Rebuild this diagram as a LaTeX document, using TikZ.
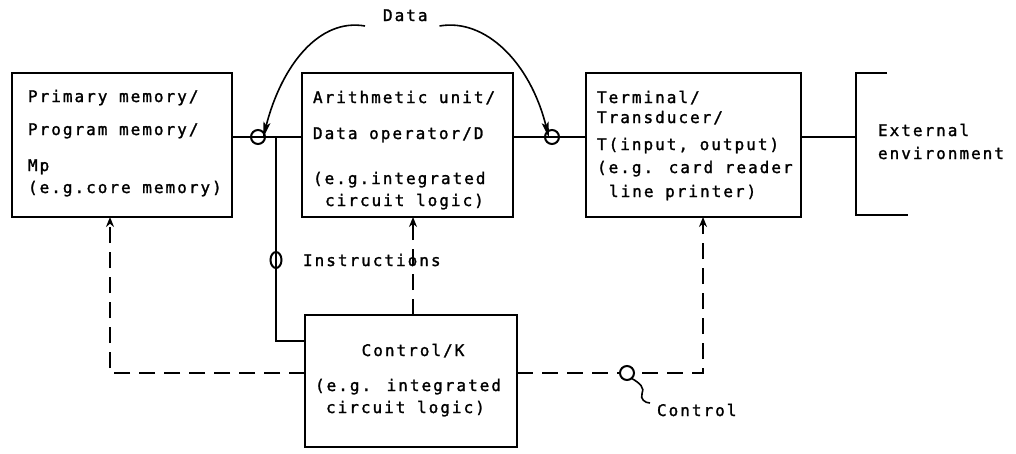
\documentclass[tikz,border=0pt]{standalone}
\usepackage{fontspec}
\newfontfamily\labelfont{DejaVu Sans Mono}[LetterSpace=12.5,FakeBold=1.5]
\usetikzlibrary{arrows.meta,shapes.geometric}

\tikzset{
  box/.style={draw, line width=2pt, inner sep=0pt, outer sep=0pt, anchor=north west},
  txt/.style={anchor=base west, inner sep=0pt, outer sep=0pt,
              font={\labelfont\fontsize{16pt}{18pt}\selectfont}},
  wire/.style={line width=2pt},
  ctl/.style={line width=2pt, dash pattern=on 16pt off 9pt,
              -{Stealth[length=10pt,width=8pt]}},
  flow/.style={line width=1.6pt, -{Stealth[length=16pt,width=7pt,inset=3pt]}},
  ring/.style={draw, circle, line width=2pt, inner sep=0pt, outer sep=0pt, minimum size=14pt},
}

\begin{document}
\begin{tikzpicture}[x=1pt,y=-1pt]
\useasboundingbox (0,0) rectangle (1016,453);

% functional blocks
\node[box, minimum width=220pt, minimum height=144pt] (Mp) at (12,73) {};
\node[box, minimum width=211pt, minimum height=144pt] (D)  at (302,73) {};
\node[box, minimum width=215pt, minimum height=144pt] (T)  at (586,73) {};
\node[box, minimum width=212pt, minimum height=132pt] (K)  at (305,315) {};

% primary memory text
\node[txt] (mp1) at (28,102) {Primary memory/};
\node[txt] (mp2) at (28,135) {Program memory/};
\node[txt] (mp3) at (28,171) {Mp};
\node[txt] (mp4) at (28,193) {(e.g.core memory)};

% data operator text
\node[txt] (d1) at (313,103) {Arithmetic unit/};
\node[txt] (d2) at (313,139) {Data operator/D};
\node[txt] (d3) at (313,184) {(e.g.integrated};
\node[txt] (d4) at (325,206) {circuit logic)};

% terminal text
\node[txt] (t1) at (597,103) {Terminal/};
\node[txt] (t2) at (597,123) {Transducer/};
\node[txt] (t3) at (597,150) {T(input, output)};
\node[txt] (t4) at (597,173) {(e.g. card reader};
\node[txt] (t5) at (609,197) {line printer)};

% control text
\node[txt, anchor=base] (k1) at (413,356) {Control/K};
\node[txt] (k2) at (315,391) {(e.g. integrated};
\node[txt] (k3) at (326,413) {circuit logic)};

% external environment
\draw[wire] (887,73) -- (856,73) -- (856,215) -- (908,215);
\coordinate (ext) at (856,137);
\node[txt] (e1) at (878,136) {External};
\node[txt] (e2) at (878,159) {environment};

% data path
\node[ring] (c1) at (258,137) {};
\node[ring] (c2) at (552,137) {};
\coordinate (j) at (276,137);
\draw[wire] (Mp.east |- c1) -- (D.west |- c1);
\draw[wire] (D.east |- c2) -- (T.west |- c2);
\draw[wire] (T.east |- c2) -- (ext);

% instruction path
\node[draw, ellipse, line width=2pt, inner sep=0pt, minimum width=11pt, minimum height=16pt] (ci) at (276,260) {};
\coordinate (kin) at (K.west |- 0,341);
\draw[wire] (j) -- (j |- kin) -- (kin);
\node[txt] (ins) at (303,266) {Instructions};

% data flow label
\node[txt] (data) at (383,21) {Data};
\draw[flow] ([xshift=-18pt,yshift=-5pt]data.base west) .. controls (320,18) and (282,64) .. ([xshift=5pt,yshift=-8pt]c1.north);
\draw[flow] ([xshift=12pt,yshift=-5pt]data.base east) .. controls (485,18) and (530,62) .. ([xshift=-3pt,yshift=-8pt]c2.north);

% control paths
\coordinate (kl) at (K.west |- 0,373);
\coordinate (kr) at (K.east |- 0,373);
\draw[ctl] (kl) -| (Mp.south -| 110,0);
\draw[ctl] (K.north -| 413,0) -- (D.south -| 413,0);
\draw[ctl] (kr) -| (T.south -| 703,0);
\node[ring, fill=white] (cc) at (627,373) {};
\draw[line width=1.6pt] (cc.-50) .. controls (640,383) and (645,388) .. (642,394)
                         .. controls (640,399) and (645,403) .. (650,403);
\node[txt] (ctrl) at (657,416) {Control};
\end{tikzpicture}
\end{document}
